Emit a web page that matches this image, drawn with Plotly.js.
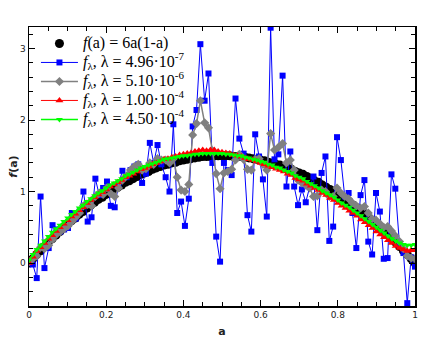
<!DOCTYPE html>
<html>
<head>
<meta charset="utf-8">
<script src="https://cdn.plot.ly/plotly-3.0.1.min.js"></script>
<style>
  html, body { margin: 0; padding: 0; background: #fff; }
  #plot { width: 436px; height: 347px; }
</style>
</head>
<body>
<div id="plot"></div>
<script>
// a grid with step 0.01 (used by the exact curve and the two smooth fits)
const a_fine = [
  0.00,0.01,0.02,0.03,0.04,0.05,0.06,0.07,0.08,0.09,
  0.10,0.11,0.12,0.13,0.14,0.15,0.16,0.17,0.18,0.19,
  0.20,0.21,0.22,0.23,0.24,0.25,0.26,0.27,0.28,0.29,
  0.30,0.31,0.32,0.33,0.34,0.35,0.36,0.37,0.38,0.39,
  0.40,0.41,0.42,0.43,0.44,0.45,0.46,0.47,0.48,0.49,
  0.50,0.51,0.52,0.53,0.54,0.55,0.56,0.57,0.58,0.59,
  0.60,0.61,0.62,0.63,0.64,0.65,0.66,0.67,0.68,0.69,
  0.70,0.71,0.72,0.73,0.74,0.75,0.76,0.77,0.78,0.79,
  0.80,0.81,0.82,0.83,0.84,0.85,0.86,0.87,0.88,0.89,
  0.90,0.91,0.92,0.93,0.94,0.95,0.96,0.97,0.98,0.99,
  1.00];

// a grid with 100 points (used by the two noisy fits)
const a_coarse = [
  0.000,0.010,0.020,0.030,0.040,0.051,0.061,0.071,0.081,0.091,
  0.101,0.111,0.121,0.131,0.141,0.152,0.162,0.172,0.182,0.192,
  0.202,0.212,0.222,0.232,0.242,0.253,0.263,0.273,0.283,0.293,
  0.303,0.313,0.323,0.333,0.343,0.354,0.364,0.374,0.384,0.394,
  0.404,0.414,0.424,0.434,0.444,0.455,0.465,0.475,0.485,0.495,
  0.505,0.515,0.525,0.535,0.545,0.556,0.566,0.576,0.586,0.596,
  0.606,0.616,0.626,0.636,0.646,0.657,0.667,0.677,0.687,0.697,
  0.707,0.717,0.727,0.737,0.747,0.758,0.768,0.778,0.788,0.798,
  0.808,0.818,0.828,0.838,0.848,0.859,0.869,0.879,0.889,0.899,
  0.909,0.919,0.929,0.939,0.949,0.960,0.970,0.980,0.990,1.000];

// f(a) = 6a(1-a), black circles
const f_exact = [
  0.00,0.06,0.12,0.17,0.23,0.29,0.34,0.39,0.44,0.49,
  0.54,0.59,0.63,0.68,0.72,0.77,0.81,0.85,0.89,0.92,
  0.96,1.00,1.03,1.06,1.09,1.13,1.15,1.18,1.21,1.24,
  1.26,1.28,1.31,1.33,1.35,1.37,1.38,1.40,1.41,1.43,
  1.44,1.45,1.46,1.47,1.48,1.49,1.49,1.49,1.50,1.50,
  1.50,1.50,1.50,1.49,1.49,1.49,1.48,1.47,1.46,1.45,
  1.44,1.43,1.41,1.40,1.38,1.37,1.35,1.33,1.31,1.28,
  1.26,1.24,1.21,1.18,1.15,1.13,1.09,1.06,1.03,1.00,
  0.96,0.92,0.89,0.85,0.81,0.77,0.72,0.68,0.63,0.59,
  0.54,0.49,0.44,0.39,0.34,0.29,0.23,0.17,0.12,0.06,
  0.00];

// lambda = 4.96e-7, blue squares
const f_l1 = [
  0.00,-0.02,-0.21,0.93,-0.07,0.21,0.53,0.47,0.44,0.47,
  0.49,0.70,0.62,0.72,1.00,0.58,0.64,1.18,0.95,1.05,
  1.14,0.80,0.78,1.10,1.29,1.20,1.30,1.35,1.38,1.12,
  1.25,1.68,1.40,1.65,1.38,1.20,1.00,1.94,0.70,0.86,
  0.52,0.90,1.91,2.14,3.06,2.27,2.65,1.40,0.37,0.02,
  1.40,1.30,1.23,2.30,1.74,1.53,0.67,0.44,1.80,1.49,
  1.17,0.65,3.29,1.45,1.52,2.62,1.07,1.56,1.07,0.81,
  1.03,0.85,1.06,1.21,0.46,1.26,1.49,0.31,0.51,1.76,
  1.44,0.93,0.98,0.70,0.21,0.95,1.16,0.30,0.12,0.98,
  0.72,0.06,0.07,1.24,1.04,0.25,0.14,-0.56,0.08,-0.05];

// lambda = 5.10e-6, grey diamonds
const f_l2 = [
  0.02,0.06,0.10,0.22,0.20,0.25,0.33,0.40,0.44,0.48,
  0.52,0.58,0.64,0.70,0.80,0.82,0.80,0.93,0.98,0.96,
  1.05,0.97,0.93,1.05,1.16,1.22,1.30,1.35,1.38,1.30,
  1.32,1.40,1.38,1.46,1.44,1.44,1.40,1.46,1.20,1.02,
  1.00,1.10,1.79,1.95,2.27,1.96,1.89,1.57,1.25,1.04,
  1.26,1.28,1.31,1.44,1.52,1.45,1.31,1.30,1.45,1.46,
  1.38,1.30,1.81,1.58,1.62,1.67,1.40,1.44,1.30,1.16,
  1.12,1.09,1.05,0.93,0.94,1.02,1.00,0.93,0.93,1.05,
  0.98,0.93,0.90,0.84,0.80,0.77,0.79,0.70,0.62,0.60,
  0.55,0.50,0.51,0.45,0.38,0.30,0.20,0.10,0.07,0.06];

// lambda = 1.00e-4, red triangles
const f_l3 = [
  0.00,0.09,0.17,0.22,0.28,0.34,0.39,0.45,0.50,0.55,
  0.60,0.65,0.69,0.74,0.78,0.84,0.88,0.92,0.96,0.99,
  1.03,1.07,1.10,1.13,1.16,1.20,1.22,1.25,1.28,1.31,
  1.33,1.35,1.38,1.40,1.42,1.45,1.46,1.48,1.49,1.51,
  1.52,1.53,1.54,1.56,1.57,1.58,1.57,1.58,1.58,1.56,
  1.55,1.54,1.53,1.51,1.50,1.49,1.47,1.45,1.44,1.42,
  1.40,1.38,1.36,1.34,1.32,1.30,1.28,1.25,1.23,1.19,
  1.17,1.15,1.11,1.08,1.05,1.02,0.98,0.95,0.91,0.88,
  0.84,0.80,0.77,0.73,0.70,0.66,0.61,0.57,0.53,0.49,
  0.44,0.40,0.36,0.32,0.28,0.24,0.21,0.19,0.17,0.18,
  0.18];

// lambda = 4.50e-4, green down triangles
const f_l4 = [
  0.04,0.12,0.19,0.25,0.31,0.37,0.43,0.48,0.53,0.58,
  0.63,0.68,0.72,0.77,0.81,0.86,0.90,0.94,0.98,1.01,
  1.05,1.09,1.12,1.15,1.18,1.22,1.24,1.27,1.30,1.33,
  1.35,1.37,1.39,1.41,1.43,1.45,1.46,1.47,1.48,1.49,
  1.50,1.50,1.51,1.52,1.52,1.53,1.53,1.53,1.53,1.53,
  1.53,1.52,1.52,1.51,1.50,1.50,1.48,1.47,1.45,1.44,
  1.42,1.41,1.38,1.37,1.34,1.33,1.30,1.28,1.26,1.22,
  1.20,1.18,1.14,1.11,1.08,1.05,1.01,0.98,0.95,0.92,
  0.88,0.84,0.81,0.78,0.74,0.70,0.66,0.62,0.58,0.54,
  0.50,0.46,0.42,0.38,0.34,0.31,0.28,0.26,0.25,0.25,
  0.26];

const lambdas = ["4.96", "5.10", "1.00", "4.50"];
const exponents = ["-7", "-6", "-4", "-4"];

// legend rows are packed tighter than plotly does for a 16px font,
// so the legend font is small and each label is set back to 16px
function big(txt) {
    return '<span style="font-size:16px">' + txt + '</span>';
}
function small(txt) {
    return '<span style="font-size:11px">' + txt + '</span>';
}
function lambda_name(i) {
    return big("<i>f</i><sub>" + small("λ") + "</sub>, λ = " + lambdas[i] + "·10<sup>" +
               small(exponents[i]) + "</sup>");
}

const trace_exact = {x: a_fine, y: f_exact, mode: "markers", name: big("<i>f</i>(a) = 6a(1-a)"),
                     marker: {symbol: "circle", size: 9, color: "black"}};
const trace_l1 = {x: a_coarse, y: f_l1, mode: "lines+markers", name: lambda_name(0),
                  line: {color: "#0000ff", width: 1},
                  marker: {symbol: "square", size: 6, color: "#0000ff"}};
const trace_l2 = {x: a_coarse, y: f_l2, mode: "lines+markers", name: lambda_name(1),
                  line: {color: "#808080", width: 1.5},
                  marker: {symbol: "diamond", size: 7, color: "#808080"}};
const trace_l3 = {x: a_fine, y: f_l3, mode: "lines+markers", name: lambda_name(2),
                  line: {color: "#ff0000", width: 1},
                  marker: {symbol: "triangle-up", size: 7, color: "#ff0000"}};
const trace_l4 = {x: a_fine, y: f_l4, mode: "lines+markers", name: lambda_name(3),
                  line: {color: "#00ff00", width: 1.5},
                  marker: {symbol: "triangle-down", size: 6, color: "#00ff00"}};

const tickFont = {family: "DejaVu Sans, sans-serif", size: 9, color: "#222"};
const titleFont = {family: "DejaVu Sans, sans-serif", size: 11, color: "#222", weight: "bold"};

var layout = {
  width: 436, height: 347,
  margin: {l: 29, r: 21, t: 27, b: 41},
  paper_bgcolor: "white", plot_bgcolor: "white",
  showlegend: true,
  legend: {x: 0.018, y: 0.993, xanchor: "left", yanchor: "top",
           bgcolor: "rgba(0,0,0,0)", itemwidth: 37,
           font: {family: "Liberation Serif, Times New Roman, serif", size: 12, color: "black"}},
  xaxis: {range: [0, 1], dtick: 0.2, tick0: 0,
          ticks: "inside", ticklen: 6, tickcolor: "black",
          minor: {dtick: 0.05, ticks: "inside", ticklen: 4, tickcolor: "black"},
          showline: true, linecolor: "black", linewidth: 1.5, mirror: "allticks",
          showgrid: false, zeroline: false, tickfont: tickFont,
          automargin: false,
          title: {text: "a", font: titleFont, standoff: 8}},
  yaxis: {range: [-0.6, 3.3], dtick: 1, tick0: 0,
          ticks: "inside", ticklen: 6, tickcolor: "black",
          minor: {dtick: 0.2, ticks: "inside", ticklen: 4, tickcolor: "black"},
          showline: true, linecolor: "black", linewidth: 1.5, mirror: "allticks",
          showgrid: false, zeroline: false, tickfont: tickFont,
          automargin: false,
          title: {text: "<i>f</i>(a)", font: titleFont, standoff: 0}}
};

Plotly.newPlot("plot", [trace_exact, trace_l1, trace_l2, trace_l3, trace_l4], layout,
               {staticPlot: true});
</script>
</body>
</html>
